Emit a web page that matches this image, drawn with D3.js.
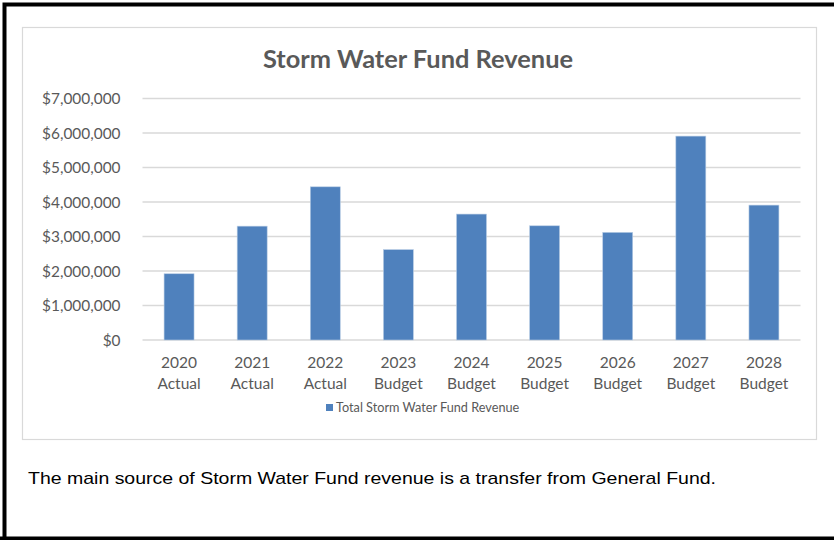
<!DOCTYPE html>
<html>
<head>
<meta charset="utf-8">
<script src="https://cdn.jsdelivr.net/npm/d3@7"></script>
<style>
  body { margin: 0; background: #fff; }
  svg text { font-family: Lato, "Open Sans", sans-serif; fill: #595959; }
  svg text.note { font-family: "Liberation Sans", Arial, sans-serif; fill: #000; }
</style>
</head>
<body>
<svg id="chart" width="834" height="540"></svg>
<script>
  // values
  var years = ['2020', '2021', '2022', '2023', '2024', '2025', '2026', '2027', '2028'];
  var kinds = ['Actual', 'Actual', 'Actual', 'Budget', 'Budget', 'Budget', 'Budget', 'Budget', 'Budget'];
  var revenue = [1920000, 3300000, 4440000, 2620000, 3650000, 3310000, 3120000, 5910000, 3910000];
  var yTicks = [0, 1000000, 2000000, 3000000, 4000000, 5000000, 6000000, 7000000];

  var svg = d3.select('#chart');

  // outer black frame
  svg.append('path')
    .attr('d', 'M4.5,540 V4.5 H834')
    .attr('fill', 'none')
    .attr('stroke', '#000')
    .attr('stroke-width', 4);
  svg.append('line')
    .attr('x1', 0).attr('x2', 834)
    .attr('y1', 538.5).attr('y2', 538.5)
    .attr('stroke', '#000')
    .attr('stroke-width', 4);

  // chart area box
  svg.append('rect')
    .attr('x', 22.5).attr('y', 27.5)
    .attr('width', 794).attr('height', 412)
    .attr('fill', '#fff')
    .attr('stroke', '#d9d9d9')
    .attr('stroke-width', 1.2);

  svg.append('text')
    .attr('x', 418).attr('y', 68)
    .attr('text-anchor', 'middle')
    .style('font-size', '25.4px')
    .style('font-weight', 'bold')
    .text('Storm Water Fund Revenue');

  var x = d3.scaleBand()
    .domain(years)
    .range([142.5, 800.5])
    .paddingInner(0.59)
    .paddingOuter(0.295);

  var y = d3.scaleLinear()
    .domain([0, 7000000])
    .range([340, 98.5]);

  // gridlines
  svg.append('g')
    .selectAll('line')
    .data(yTicks)
    .join('line')
    .attr('x1', 142.5).attr('x2', 800.5)
    .attr('y1', function(d) { return y(d); })
    .attr('y2', function(d) { return y(d); })
    .attr('stroke', '#d9d9d9')
    .attr('stroke-width', 1.3);

  var yAxis = svg.append('g')
    .attr('transform', 'translate(142.5,0)')
    .call(d3.axisLeft(y).tickValues(yTicks).tickFormat(d3.format('$,')).tickSize(0).tickPadding(22));
  yAxis.select('.domain').remove();
  yAxis.selectAll('text')
    .attr('dy', '0.35em')
    .style('font-size', '15.4px')
    .style('font-family', 'Lato, "Open Sans", sans-serif')
    .attr('fill', '#595959');

  // bars
  svg.append('g')
    .selectAll('rect')
    .data(revenue)
    .join('rect')
    .attr('x', function(d, i) { return x(years[i]); })
    .attr('y', function(d) { return y(d); })
    .attr('width', x.bandwidth())
    .attr('height', function(d) { return y(0) - y(d); })
    .attr('fill', '#4f81bd')
    .attr('stroke', '#b9cde5')
    .attr('stroke-width', 0.6);

  var xAxis = svg.append('g')
    .attr('transform', 'translate(0,340)')
    .call(d3.axisBottom(x).tickSize(0).tickFormat(''));
  xAxis.select('.domain').remove();
  xAxis.selectAll('.tick text').remove();
  xAxis.selectAll('.tick').each(function(d, i) {
    var t = d3.select(this).append('text')
      .attr('text-anchor', 'middle')
      .style('font-size', '15.5px')
      .attr('fill', '#595959');
    t.append('tspan').attr('x', 0).attr('y', 28).text(d);
    t.append('tspan').attr('x', 0).attr('y', 49).text(kinds[i]);
  });

  // legend
  var legend = svg.append('g').attr('transform', 'translate(326,404)');
  legend.append('rect')
    .attr('width', 7).attr('height', 7)
    .attr('fill', '#4f81bd');
  legend.append('text')
    .attr('x', 10).attr('y', 8)
    .style('font-size', '12.7px')
    .text('Total Storm Water Fund Revenue');

  svg.append('text')
    .attr('class', 'note')
    .attr('x', 28).attr('y', 484)
    .attr('textLength', 688)
    .attr('lengthAdjust', 'spacingAndGlyphs')
    .style('font-size', '17px')
    .text('The main source of Storm Water Fund revenue is a transfer from General Fund.');
</script>
</body>
</html>
